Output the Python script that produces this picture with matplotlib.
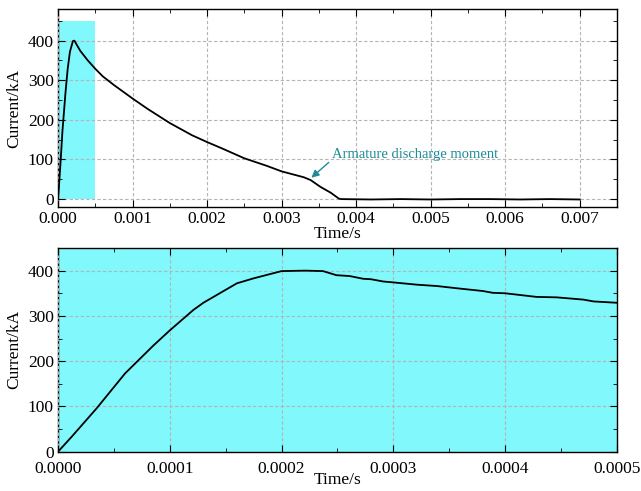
import numpy as np
import matplotlib
matplotlib.use('Agg')
import matplotlib.pyplot as plt
from matplotlib.patches import Rectangle
from matplotlib.ticker import MultipleLocator, FormatStrFormatter

font = {'family': 'Liberation Serif', 'size': 12.5}
matplotlib.rc('font', **font)

# discharge current, whole record (s, kA)
t_full = [0.0, 0.00001, 0.000035, 0.00006, 0.0001, 0.00013, 0.00016, 0.0002,
          0.00022, 0.00025, 0.0003, 0.0004, 0.0005, 0.0006, 0.00075, 0.001,
          0.0012, 0.0015, 0.0018, 0.002, 0.0022, 0.0025, 0.0028, 0.003,
          0.0032, 0.0033, 0.00339, 0.00352, 0.00366, 0.00377, 0.0038,
          0.0042, 0.0046, 0.005, 0.0054, 0.0058, 0.0062, 0.0066, 0.007]
i_full = [0, 25, 96, 173, 268, 329, 372, 399,
          400, 390, 374, 350, 329, 310, 288, 254,
          228, 192, 161, 144, 128, 103, 84, 70,
          60, 55, 48, 31, 16, 1, 0,
          -1, 0, -1, 0, 0, -1, 0, -1]

# first 0.5 ms, rising edge and peak
t_rise = [0.0, 0.0000122, 0.0000346, 0.00006, 0.0000855, 0.0001, 0.000121,
          0.00013, 0.00016, 0.000175, 0.0002, 0.000221, 0.000237, 0.000249,
          0.000261, 0.000273, 0.00028, 0.000291, 0.0003, 0.000321, 0.000339,
          0.000357, 0.00038, 0.000389, 0.0004, 0.000428, 0.000446, 0.00047,
          0.000479, 0.0005]
i_rise = [0, 33, 96, 173, 235, 268, 313,
          329, 372, 383, 399, 400, 399, 390,
          388, 382, 381, 376, 374, 369, 366,
          361, 355, 351, 350, 342, 341, 336,
          332, 329]

cyan = '#80F8FC'
teal = '#1E8C96'
grid_kw = dict(color='#b4b4b4', linestyle=(0, (3, 2)), linewidth=0.8)


def style_axes(ax):
    ax.tick_params(which='both', direction='in', top=True, right=True,
                   labeltop=False, labelright=False)
    ax.tick_params(which='major', length=5, pad=3)
    ax.tick_params(which='minor', length=3)
    ax.grid(True, which='major', **grid_kw)
    ax.set_axisbelow(False)
    for s in ax.spines.values():
        s.set_linewidth(1.0)


fig = plt.figure(figsize=(6.41, 4.91), dpi=100, facecolor='white')

# top panel: full discharge
ax1 = fig.add_axes([0.0905, 0.5784, 0.872, 0.4033])
ax1.add_patch(Rectangle((0, 0), 0.0005, 450, facecolor=cyan, edgecolor='none', zorder=0))
ax1.plot(t_full, i_full, color='black', linewidth=1.3, zorder=3)
ax1.set_xlim(0, 0.0075)
ax1.set_ylim(-20, 480)
ax1.xaxis.set_major_locator(MultipleLocator(0.001))
ax1.xaxis.set_minor_locator(MultipleLocator(0.0005))
ax1.xaxis.set_major_formatter(FormatStrFormatter('%.3f'))
ax1.yaxis.set_major_locator(MultipleLocator(100))
ax1.yaxis.set_minor_locator(MultipleLocator(50))
style_axes(ax1)
ax1.set_xlabel('Time/s', labelpad=-1)
ax1.set_ylabel('Current/kA', labelpad=4)
ax1.annotate('Armature discharge moment', xy=(0.0034, 54), xytext=(0.00367, 112),
             color=teal, fontsize=10.5, va='center', ha='left',
             arrowprops=dict(arrowstyle='-|>', color=teal, lw=1.0,
                             mutation_scale=11, shrinkA=0, shrinkB=0,
                             relpos=(0, 0.1)))

# bottom panel: zoom on the first 0.5 ms
ax2 = fig.add_axes([0.0905, 0.080, 0.872, 0.4149])
ax2.set_facecolor(cyan)
ax2.plot(t_rise, i_rise, color='black', linewidth=1.3, zorder=3)
ax2.set_xlim(0, 0.0005)
ax2.set_ylim(0, 450)
ax2.xaxis.set_major_locator(MultipleLocator(0.0001))
ax2.xaxis.set_minor_locator(MultipleLocator(0.00005))
ax2.xaxis.set_major_formatter(FormatStrFormatter('%.4f'))
ax2.yaxis.set_major_locator(MultipleLocator(100))
ax2.yaxis.set_minor_locator(MultipleLocator(50))
style_axes(ax2)
ax2.tick_params(axis='x', which='major', pad=7)
ax2.set_xlabel('Time/s', labelpad=-4)
ax2.set_ylabel('Current/kA', labelpad=4)

plt.savefig('out.png', dpi=100)
plt.close()
